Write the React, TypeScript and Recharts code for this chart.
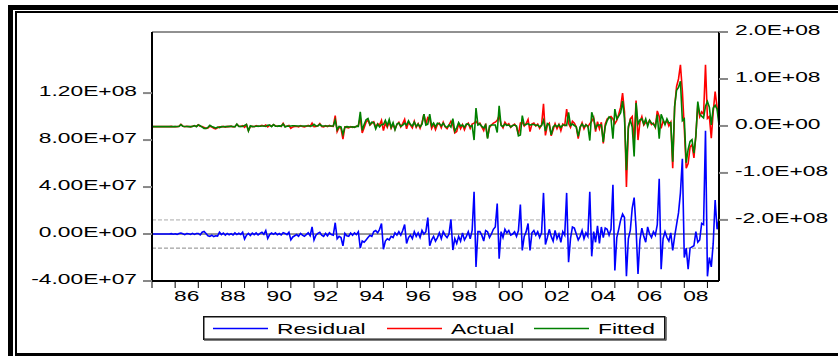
import { LineChart, Line, XAxis, YAxis, ReferenceLine, Legend } from "recharts";

// monthly observations, 1985M01 .. 2009M07, in millions
const START_YEAR = 1985;

const RESIDUAL = [
  0, 0, 0, 0, 0, 0, 0, 0, 0, 0, 0.3, -0.2, // 85
  0.2, -0.3, 0.5, 0.8, 0.3, -0.5, 0.4, 0.2, -0.4, 0.6, -0.3, 0.5, // 86
  0.5, -0.8, 1.5, 2.2, 0.5, -1.5, -2, -1, -2.2, -1.5, -1.8, 1.5, // 87
  -0.5, 0.8, -1, 0.5, -0.6, 0.3, -0.8, 1, -0.5, 0.6, -0.4, 1.5, // 88
  -4.3, -1, 0.5, -1.2, 0.8, -0.5, 1, -0.8, 0.6, 1.5, -0.3, 3, // 89
  -3.7, -0.5, 0.8, -0.3, 1, -0.6, 0.4, -0.8, 1.2, 0.5, -0.5, 1.5, // 90
  -5, -2.5, -1.5, -0.5, -2, 0.5, -1, -2, -0.5, 1, -1.5, 6, // 91
  -5, -1, 0.5, 1.5, -1, -2, 0.5, -1.5, 1, -0.5, -1, 9.6, // 92
  -4, -2, -3, -10, 0.5, -1.5, -2, 0.8, -1, 1, -0.5, 2, // 93
  -12, -6, -7, -5, -3, -1, -2, 2, 3, 1, 4, 9, // 94
  -13, -6, -4, -5, -2, -3, 1, -1, 2, -1, 3, 8, // 95
  -8, -3, -1, -4, 2, -2, 1, -3, 3, 0, 2, 14, // 96
  -10, -5, -2, -6, -3, 1, -4, 2, -1, -3, 0, 12.5, // 97
  -13.6, -4, -8, -2, -6, 1, -5, -2, 2, -4, 3, 36, // 98
  -28, 2, 2, -1, -6, 3, 2, -3, 0, 4, 6, 26, // 99
  -21, 2, -3, 4, 1, 3, -1, 0, 2, -2, 3, 25, // 00
  -14, -2, 2, 9, -14, 1, 3, -1, 2, -3, 1, 35, // 01
  -9, -3, 4, -2, -6, 3, -4, 0, -7, 2, -1, 35, // 02
  -24, -4, 6, 5, 0, -5, -2, 3, -4, 1, -2, 36, // 03
  -19, 2, -7, 7, -8, 6, -3, 5, 4, -1, 4, 42, // 04
  -31, -3, 4, 12, 17, 14, -36, -4, 3, 22, 31, 5, // 05
  -34, -5, 5, -2, -7, 6, 0, -3, 2, -1, 8, 47, // 06
  -30, -4, 2, -3, -6, 1, -14, -2, 8, 18, 35, 64, // 07
  -20, -12, -30, -12, -11, -10, 2, -7, -5, 9, 8, 88, // 08
  -36, -20, -28, -8, 29, 4, 13, // 09
];

const ACTUAL = [
  -1.4, -1.3, -1.5, -1.4, -1.2, -1.5, -1.3, -1.4, -1.2, -1.5, -1.0, -1.6, // 85
  -1.2, -1.6, -0.8, 3.5, -0.5, -1.5, -0.6, -1.2, -1.8, -0.5, 0.5, -1.0, // 86
  2.5, -0.5, -1, -3, -5, -4.5, -0.5, -2, -5, -6, -4, -2, // 87
  -2, -1, -2.5, -1, -1.5, -0.5, -2, -1, 3.5, -0.5, -1, 0.5, // 88
  -3, 2.5, -10, -1, -0.5, -1.5, 0.5, -1, 0, 1.5, -0.5, 2, // 89
  -2, 1.5, -0.5, 2.5, 0.5, -1, 0.5, -1, 5.5, -1.5, -0.5, 1, // 90
  -5, -2, -1, -0.5, -2, 0.5, -1, -2, -0.5, 1, -1, 6, // 91
  -1.5, -1, 0.5, 5, -1, -2, 0.5, -1.5, 1, -0.5, -1, 22, // 92
  -12, -3, -5, -28, -2, -3, -4, -1.5, -3, -2, -1, 1, // 93
  18, -15, -4, 8, 13, 2, 6, 9, -3, 5, 2, 12, // 94
  -10, 6, -3, 9, -5, 4, -7, 3, 8, -2, 5, 14, // 95
  -6, 8, 2, -4, 10, -3, 5, -5, 7, 25, 4, 18, // 96
  15, -5, 4, -8, 3, 6, -4, 8, -2, -6, 2, 10, // 97
  2, -15, -12, 5, -6, 3, -8, 2, 6, -5, 4, 6, // 98
  10, 4, 6, -2, -10, 5, -25, -3, 2, 6, 8, 12, // 99
  22, 3, -4, 8, 2, 5, -3, 1, 4, -2, -18, 6, // 00
  8, 0, 5, 14, -12, 4, 6, 0, 4, -5, 2, 47, // 01
  -20, 2, 6, -21, -8, 5, -6, 3, -10, 4, 1, 36, // 02
  5, -3, 10, 6, -2, -27, -4, 7, -6, 3, -2, 5, // 03
  10, 18, -12, 9, -6, 8, -37, 4, 15, 18, 20, 15, // 04
  5, 12, 25, 40, 70, 30, -130, -5, 15, 20, -34, 54, // 05
  -30, 8, 20, 2, 8, 5, 12, 3, 6, -3, 32, 20, // 06
  -5, 10, 5, 12, 0, 8, -90, 40, 84, 100, 130, 75, // 07
  -5, -90, -80, -45, -40, -68, -20, 45, 20, 30, 25, 130, // 08
  16, 20, -26, 30, 73, 40, 15, // 09
];

const SERIES_NAMES = ["Residual", "Actual", "Fitted"];
const LEFT_TICKS = [-40, 0, 40, 80, 120];
const RIGHT_TICKS = [-200, -100, 0, 100, 200];
const YEAR_TICKS = Array.from({ length: 25 }, (_, i) => START_YEAR + i);
const YEAR_LABELS = ["86", "88", "90", "92", "94", "96", "98", "00", "02", "04", "06", "08"];
const SE_BAND = 12;

// fitted = actual - residual
const data = ACTUAL.map((a, i) => ({
  t: START_YEAR + i / 12,
  residual: RESIDUAL[i],
  actual: a,
  fitted: a - RESIDUAL[i],
}));

const labelTicks = YEAR_LABELS.map((s) => (Number(s) < 50 ? 2000 : 1900) + Number(s) + 0.5);

const FONT = "'Liberation Sans', Arial, sans-serif";
const SX = 1.52;

function sci(vM: number, digits: number) {
  const v = vM * 1e6;
  if (v === 0) return (0).toFixed(digits) + "E+00";
  const exp = Math.floor(Math.log10(Math.abs(v)));
  const mant = v / Math.pow(10, exp);
  return mant.toFixed(digits) + "E" + (exp >= 0 ? "+" : "-") + String(Math.abs(exp)).padStart(2, "0");
}

function LeftTick({ x, y, payload }: any) {
  return (
    <text transform={`translate(${x},${y + 3}) scale(${SX},1)`} textAnchor="end" fontSize={15} fontFamily={FONT} fill="#000">
      {sci(payload.value, 2)}
    </text>
  );
}

function RightTick({ x, y, payload }: any) {
  return (
    <text transform={`translate(${x},${y + 3}) scale(${SX},1)`} textAnchor="start" fontSize={15} fontFamily={FONT} fill="#000">
      {sci(payload.value, 1)}
    </text>
  );
}

function YearTick({ x, y, payload }: any) {
  const v = payload.value;
  if (Number.isInteger(v)) {
    return <line x1={x} x2={x} y1={y + 1} y2={y + 7} stroke="#000" strokeWidth={1} />;
  }
  const label = String(Math.floor(v) % 100).padStart(2, "0");
  return (
    <text transform={`translate(${x},${y + 20}) scale(${SX},1)`} textAnchor="middle" fontSize={15} fontFamily={FONT} fill="#000">
      {label}
    </text>
  );
}

const LEGEND_X = [10, 184, 331];

function LegendBox({ payload }: any) {
  const items = [...(payload || [])].sort(
    (a: any, b: any) => SERIES_NAMES.indexOf(a.value) - SERIES_NAMES.indexOf(b.value)
  );
  return (
    <svg width={464} height={25}>
      <rect x={0.75} y={0.75} width={461} height={22.5} fill="#fff" stroke="#111" strokeWidth={1.5} />
      <line x1={1} x2={463} y1={24} y2={24} stroke="#555" strokeWidth={1.5} />
      <line x1={463} x2={463} y1={1} y2={24.5} stroke="#555" strokeWidth={1.5} />
      {items.map((p: any, i: number) => (
        <g key={p.value}>
          <line x1={LEGEND_X[i]} x2={LEGEND_X[i] + 55} y1={12.5} y2={12.5} stroke={p.color} strokeWidth={1.3} />
          <text
            transform={`translate(${LEGEND_X[i] + 64},17.5) scale(${SX},1)`}
            fontSize={15}
            fontFamily={FONT}
            fill="#000"
          >
            {p.value}
          </text>
        </g>
      ))}
    </svg>
  );
}

export default function App() {
  return (
    <div style={{ position: "absolute", left: 0, top: 0, width: 838, height: 356, overflow: "hidden", background: "#fff" }}>
      <div
        style={{
          position: "absolute",
          left: 8,
          top: 5,
          width: 900,
          height: 400,
          borderLeft: "5px solid #000",
          borderTop: "5px solid #000",
        }}
      />
      <div
        style={{
          position: "absolute",
          left: 15,
          top: 11,
          width: 900,
          height: 345,
          boxSizing: "border-box",
          borderLeft: "2px solid #000",
          borderTop: "2px solid #000",
          borderBottom: "3px solid #000",
        }}
      />
      <div style={{ position: "absolute", left: 0, top: 0 }}>
        <LineChart width={838} height={356} data={data} margin={{ top: 32, right: 0, bottom: 45, left: 0 }}>
          <XAxis
            dataKey="t"
            type="number"
            domain={[1985, 2009.5]}
            ticks={[...YEAR_TICKS, ...labelTicks]}
            interval={0}
            tick={<YearTick />}
            tickLine={false}
            tickSize={0}
            tickMargin={0}
            height={30}
            axisLine={{ stroke: "#000", strokeWidth: 2 }}
            allowDataOverflow
          />
          <YAxis
            yAxisId="left"
            orientation="left"
            width={152}
            domain={[-40, 172]}
            ticks={LEFT_TICKS}
            interval={0}
            tick={<LeftTick />}
            tickSize={9}
            tickMargin={6}
            tickLine={{ stroke: "#888", strokeWidth: 2 }}
            axisLine={{ stroke: "#000", strokeWidth: 2 }}
            allowDataOverflow
          />
          <YAxis
            yAxisId="right"
            orientation="right"
            width={119}
            domain={[-330, 200]}
            ticks={RIGHT_TICKS}
            interval={0}
            tick={<RightTick />}
            tickSize={9}
            tickMargin={7}
            tickLine={{ stroke: "#888", strokeWidth: 2 }}
            axisLine={{ stroke: "#000", strokeWidth: 2 }}
            allowDataOverflow
          />
          <ReferenceLine yAxisId="left" y={172} stroke="#222" strokeWidth={1} />
          <ReferenceLine yAxisId="left" y={SE_BAND} stroke="#aaa" strokeDasharray="4 2" strokeWidth={1} />
          <ReferenceLine yAxisId="left" y={-SE_BAND} stroke="#888" strokeDasharray="4 2" strokeWidth={1} />
          <ReferenceLine yAxisId="left" y={0} stroke="#333" strokeWidth={1} />
          <Line
            yAxisId="left"
            dataKey="residual"
            name="Residual"
            stroke="#0000ff"
            strokeWidth={1.6}
            dot={false}
            isAnimationActive={false}
          />
          <Line
            yAxisId="right"
            dataKey="actual"
            name="Actual"
            stroke="#ff0000"
            strokeWidth={1.6}
            dot={false}
            isAnimationActive={false}
          />
          <Line
            yAxisId="right"
            dataKey="fitted"
            name="Fitted"
            stroke="#008000"
            strokeWidth={1.6}
            dot={false}
            isAnimationActive={false}
          />
          <Legend
            layout="horizontal"
            verticalAlign="middle"
            align="center"
            content={<LegendBox />}
            wrapperStyle={{ position: "absolute", left: 203, top: 316, width: 464, height: 25 }}
          />
        </LineChart>
      </div>
    </div>
  );
}
